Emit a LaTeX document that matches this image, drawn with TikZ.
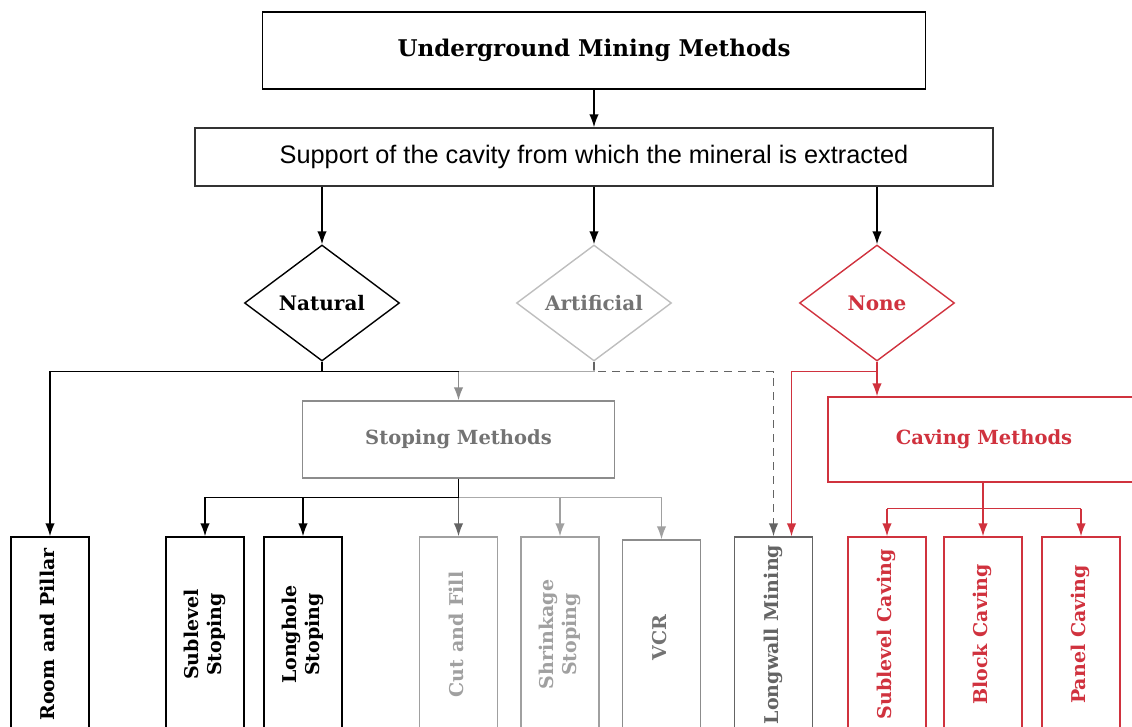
\documentclass[tikz,border=0pt]{standalone}
\usepackage{fontspec}
\setmainfont{DejaVu Serif}
\newfontfamily\sinserif{Liberation Sans}
\usepackage{xcolor}
\usepackage{tikz}
\usetikzlibrary{shapes.geometric,arrows.meta,positioning}

\definecolor{rojo}{RGB}{208,50,62}
\definecolor{grisrombo}{RGB}{190,190,190}
\definecolor{gristexto}{RGB}{115,115,115}
\definecolor{grisbarra}{RGB}{170,170,170}
\definecolor{grismedio}{RGB}{140,140,140}
\definecolor{grisclaro}{RGB}{160,160,160}
\definecolor{grisoscuro}{RGB}{100,100,100}

\newcommand{\vlabel}[1]{\rotatebox{90}{\begin{tabular}{@{}c@{}}#1\end{tabular}}}

\begin{document}
\begin{tikzpicture}[
      x=1pt, y=-1pt,
      flecha/.style={-{Latex[length=13pt,width=9.5pt]}, line width=1.5pt},
      caja/.style={draw, line width=1.4pt, inner sep=0pt, align=center},
      rombo/.style={draw, diamond, aspect=1.34, minimum width=155pt, minimum height=116pt, inner sep=0pt, line width=1.4pt, font=\bfseries\fontsize{20}{24}\selectfont},
      hoja/.style={draw, line width=1.4pt, minimum width=78pt, minimum height=195pt, inner sep=0pt, font=\bfseries\fontsize{19}{23}\selectfont}
    ]
    \clip (0,0) rectangle (1132,727);

    \node[caja, minimum width=663pt, minimum height=77pt, font=\bfseries\fontsize{23}{27}\selectfont] (titulo) at (594,50.5) {Underground Mining Methods};
    \node[caja, draw=black!80, minimum width=798pt, minimum height=58pt, font=\sinserif\fontsize{25.3}{29}\selectfont] (soporte) at (594,157) {Support of the cavity from which the mineral is extracted};

    \node[rombo] (natural) at (322,303) {Natural};
    \node[rombo, draw=grisrombo, text=gristexto] (artificial) at (594,303) {Artificial};
    \node[rombo, draw=rojo, text=rojo] (none) at (877,303) {None};

    \node[caja, draw=grismedio, text=gristexto, minimum width=312pt, minimum height=77pt, font=\bfseries\fontsize{19.5}{23}\selectfont] (stoping) at (458.5,439.5) {Stoping Methods};
    \node[caja, draw=rojo, text=rojo, minimum width=312pt, minimum height=85pt, font=\bfseries\fontsize{19.5}{23}\selectfont] (caving) at (984,439.5) {Caving Methods};

    % bottom row
    \node[hoja] (rp) at (50,634.5) {\vlabel{Room and Pillar}};
    \node[hoja] (sls) at (205,634.5) {\vlabel{Sublevel\\Stoping}};
    \node[hoja] (lhs) at (303,634.5) {\vlabel{Longhole\\Stoping}};
    \node[hoja, draw=grisclaro, text=grisclaro] (cf) at (458.5,634.5) {\vlabel{Cut and Fill}};
    \node[hoja, draw=grisclaro, text=grisclaro] (shs) at (560,634.5) {\vlabel{Shrinkage\\Stoping}};
    \node[hoja, draw=grismedio, text=gristexto] (vcr) at (661.5,637.5) {\vlabel{VCR}};
    \node[hoja, draw=grisoscuro, text=grisoscuro] (lwm) at (773.5,634.5) {\vlabel{Longwall Mining}};
    \node[hoja, draw=rojo, text=rojo] (slc) at (887,634.5) {\vlabel{Sublevel Caving}};
    \node[hoja, draw=rojo, text=rojo] (bc) at (983,634.5) {\vlabel{Block Caving}};
    \node[hoja, draw=rojo, text=rojo] (pc) at (1081,634.5) {\vlabel{Panel Caving}};

    \coordinate (barra) at (0,371.5);
    \coordinate (barrab) at (0,497.5);
    \coordinate (barrac) at (0,508.5);

    \draw[flecha] (titulo) -- (soporte);
    \draw[flecha] (soporte.south -| natural.north) -- (natural.north);
    \draw[flecha] (soporte.south -| artificial.north) -- (artificial.north);
    \draw[flecha] (soporte.south -| none.north) -- (none.north);

    % artificial
    \draw[flecha, grisbarra, -] (artificial.south) |- (stoping.north |- barra);
    \draw[flecha, grismedio] (stoping.north |- barra) -- (stoping.north);
    \draw[flecha, grisoscuro, dash pattern=on 8pt off 6pt] (artificial.south) |- (lwm.north |- barra) -- (lwm.north);

    % natural
    \draw[flecha] (natural.south) |- (rp.north |- barra) -- (rp.north);
    \draw[line width=1.5pt] (natural.south) |- (stoping.north |- barra);

    % none
    \draw[flecha, rojo] (none.south) |- ([xshift=18pt]lwm.north |- barra) -- ([xshift=18pt]lwm.north);
    \draw[flecha, rojo] (none.south) -- (none.south |- caving.north);

    % stoping
    \draw[line width=1.5pt, grisbarra] (stoping.south |- barrab) -- (vcr.north |- barrab);
    \draw[flecha, grisclaro] (shs.north |- barrab) -- (shs.north);
    \draw[flecha, grisclaro] (vcr.north |- barrab) -- (vcr.north);
    \draw[flecha, grisoscuro] (stoping.south |- barrab) -- (cf.north);
    \draw[flecha] (stoping.south) |- (sls.north |- barrab) -- (sls.north);
    \draw[flecha] (lhs.north |- barrab) -- (lhs.north);

    % caving
    \draw[line width=1.5pt, rojo] (slc.north |- barrac) -- (pc.north |- barrac);
    \draw[flecha, rojo] (caving.south -| bc.north) -- (bc.north);
    \draw[flecha, rojo] (slc.north |- barrac) -- (slc.north);
    \draw[flecha, rojo] (pc.north |- barrac) -- (pc.north);
  \end{tikzpicture}
\end{document}
